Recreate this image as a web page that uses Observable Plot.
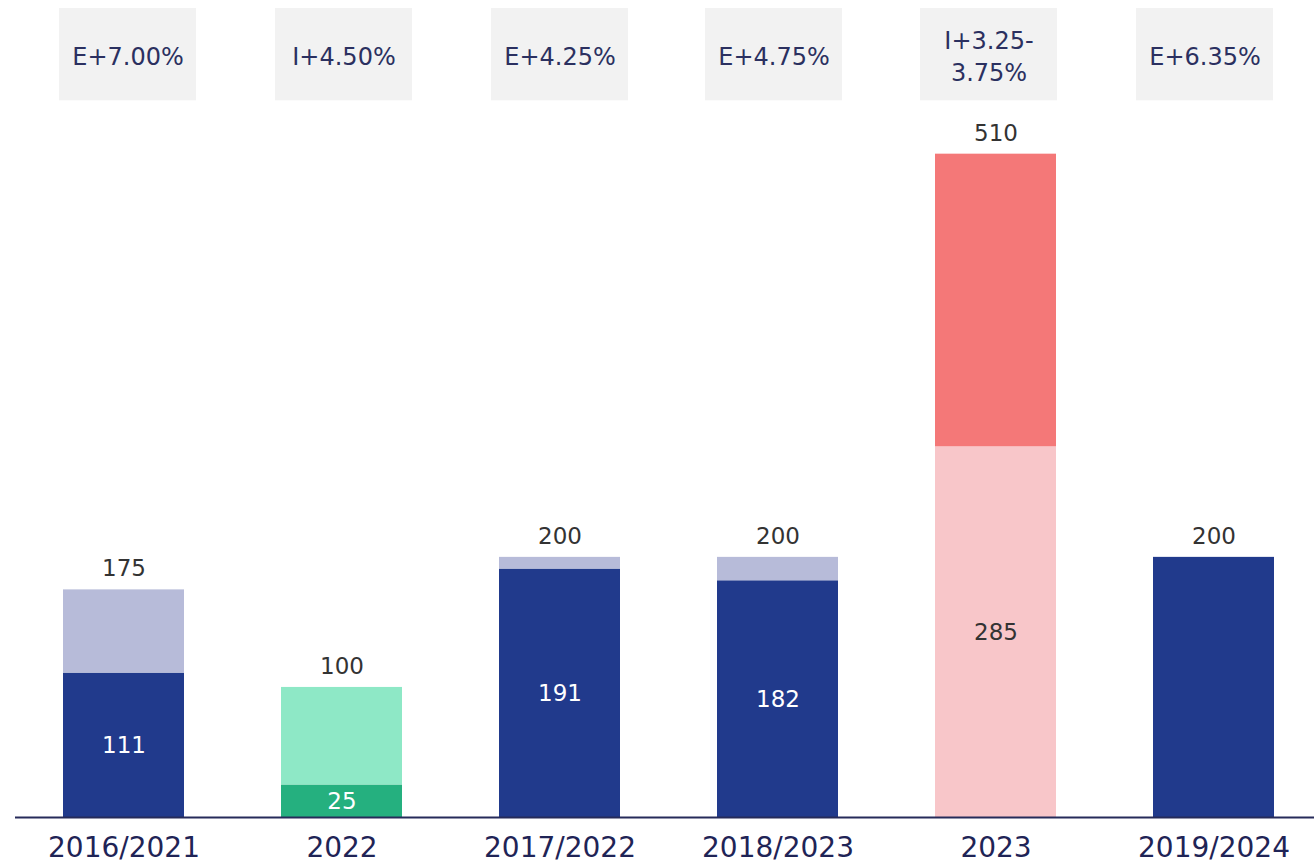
<!DOCTYPE html>
<html><head><meta charset="utf-8">
<script src="https://cdn.jsdelivr.net/npm/d3@7"></script>
<script src="https://cdn.jsdelivr.net/npm/@observablehq/plot@0.6"></script>
<style>body{margin:0;background:#fff}</style>
</head><body><div id="chart"></div>
<script>
// ---- data ----
const categories = ["2016/2021", "2022", "2017/2022", "2018/2023", "2023", "2019/2024"];
const baseValues = [111, 25, 191, 182, 285, 200];
const totals = [175, 100, 200, 200, 510, 200];
const spreads = ["E+7.00%", "I+4.50%", "E+4.25%", "E+4.75%", "I+3.25-\n3.75%", "E+6.35%"];
const groups = ["euribor", "inflation", "euribor", "euribor", "inflation23", "euribor"];

// ---- styles / layout ----
const palette = {
  "euribor-base": "#213a8c", "euribor-top": "#b7bbd9",
  "inflation-base": "#25b07f", "inflation-top": "#8ee8c6",
  "inflation23-base": "#f8c6c9", "inflation23-top": "#f47878"
};
const darkLabelGroups = ["inflation23"];
const boxBottom = 551, boxTop = 622;
const boxShift = [4, 2, 0, -4, -7, -9];

const rows = categories.flatMap((c, i) => [
  {cat: c, key: groups[i] + "-base", value: baseValues[i]},
  {cat: c, key: groups[i] + "-top", value: totals[i] - baseValues[i]}
]);
const inner = categories.map((c, i) => ({cat: c, value: baseValues[i], total: totals[i], group: groups[i]}))
  .filter(d => d.total > d.value);
const tops = categories.map((c, i) => ({cat: c, total: totals[i]}));
const boxes = categories.map((c, i) => ({cat: c, label: spreads[i], shift: boxShift[i]}));

const boxMarks = boxes.flatMap(b => [
  Plot.barY([b], {x: "cat", y1: boxBottom, y2: boxTop, fill: "#f2f2f2", insetLeft: -8 + b.shift, insetRight: -8 - b.shift}),
  Plot.text([b], {x: "cat", y: (boxBottom + boxTop) / 2, text: "label", fill: "#2b3060", fontSize: 24, lineHeight: 1.33, dx: b.shift})
]);

const font = "'DejaVu Sans', sans-serif";
const plot = Plot.plot({
  width: 1314, height: 865,
  marginTop: 8, marginBottom: 48, marginLeft: 15, marginRight: 0,
  style: {fontFamily: font, background: "#fff"},
  x: {domain: categories, paddingInner: 0.445, paddingOuter: 0.2, align: 0.545, label: null},
  y: {domain: [0, 622], axis: null},
  color: {domain: Object.keys(palette), range: Object.values(palette)},
  marks: [
    ...boxMarks,
    Plot.barY(rows, {x: "cat", y: "value", fill: "key"}),
    Plot.ruleY([0], {stroke: "#262b5a", strokeWidth: 2}),
    Plot.text(tops, {x: "cat", y: "total", text: d => String(d.total), dy: -21, fill: "#333", fontSize: 23}),
    Plot.text(inner.filter(d => !darkLabelGroups.includes(d.group)), {x: "cat", y: d => d.value / 2, text: d => String(d.value), fill: "#fff", fontSize: 23}),
    Plot.text(inner.filter(d => darkLabelGroups.includes(d.group)), {x: "cat", y: d => d.value / 2, text: d => String(d.value), fill: "#333", fontSize: 23}),
    Plot.axisX({tickSize: 0, tickPadding: 20, fontSize: 28, fill: "#1f2456", label: null})
  ]
});
document.getElementById("chart").appendChild(plot);
</script>
</body></html>
